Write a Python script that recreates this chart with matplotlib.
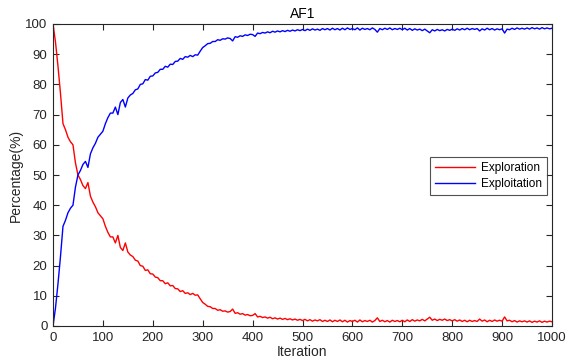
import numpy as np
import matplotlib
matplotlib.use("Agg")
import matplotlib.pyplot as plt

plt.rcParams['font.family'] = ['Liberation Sans', 'DejaVu Sans']

iterations = np.arange(0, 1001, 5)

exploration = [
    100, 94, 86, 77, 67, 65, 62.5, 61, 60, 54,
    50, 48.5, 46.5, 45.5, 47.5, 43, 41, 39.5, 37.5, 36.5,
    35.5, 33, 31, 29.5, 29.5, 27.5, 30, 26, 25, 27.5,
    24.5, 23.5, 23, 21.8, 21.5, 20, 19.8, 18.4, 18.6, 17.3,
    17.2, 16.2, 16.0, 15.0, 15.0, 14.0, 14.3, 13.3, 13.4, 12.4,
    12.3, 11.4, 11.7, 10.8, 11.0, 10.4, 10.8, 10.2, 10.3, 9.0,
    7.8, 7.2, 6.5, 6.4, 5.8, 5.8, 5.2, 5.4, 4.9, 5.0,
    4.6, 4.8, 5.6, 4.2, 4.4, 3.9, 4.1, 3.6, 3.8, 3.4,
    3.5, 4.1, 3.0, 3.2, 2.8, 3.0, 2.6, 2.9, 2.4, 2.7,
    2.3, 2.6, 2.2, 2.5, 2.1, 2.4, 2.0, 2.3, 1.9, 2.2,
    1.8, 2.2, 1.7, 2.1, 1.6, 2.0, 1.7, 2.1, 1.5, 1.9,
    1.5, 2.0, 1.4, 1.9, 1.5, 2.0, 1.4, 1.9, 1.3, 1.8,
    1.5, 1.9, 1.3, 2.0, 1.4, 1.8, 1.5, 1.9, 1.3, 1.8,
    2.7, 1.5, 1.9, 1.4, 1.8, 1.3, 1.9, 1.5, 1.8, 1.4,
    1.9, 1.4, 2.0, 1.5, 2.1, 1.6, 2.0, 1.7, 2.2, 1.7,
    2.3, 2.9, 1.9, 2.3, 1.8, 2.2, 1.9, 2.3, 1.8, 2.1,
    1.7, 2.1, 1.6, 2.0, 1.5, 1.9, 1.4, 1.9, 1.5, 1.8,
    1.5, 2.3, 1.6, 2.0, 1.4, 1.9, 1.5, 2.0, 1.6, 1.9,
    1.6, 3.0, 1.7, 1.9, 1.4, 1.8, 1.3, 1.7, 1.4, 1.7,
    1.3, 1.7, 1.2, 1.6, 1.3, 1.7, 1.2, 1.6, 1.3, 1.6,
    1.4,
]

exploitation = [
    0, 6, 14, 23, 33, 35, 37.5, 39, 40, 46,
    50, 51.5, 53.5, 54.5, 52.5, 57, 59, 60.5, 62.5, 63.5,
    64.5, 67, 69, 70.5, 70.5, 72.5, 70, 74, 75, 72.5,
    75.5, 76.5, 77, 78.2, 78.5, 80, 80.2, 81.6, 81.4, 82.7,
    82.8, 83.8, 84.0, 85.0, 85.0, 86.0, 85.7, 86.7, 86.6, 87.6,
    87.7, 88.6, 88.3, 89.2, 89.0, 89.6, 89.2, 89.8, 89.7, 91.0,
    92.2, 92.8, 93.5, 93.6, 94.2, 94.2, 94.8, 94.6, 95.1, 95.0,
    95.4, 95.2, 94.4, 95.8, 95.6, 96.1, 95.9, 96.4, 96.2, 96.6,
    96.5, 95.9, 97.0, 96.8, 97.2, 97.0, 97.4, 97.1, 97.6, 97.3,
    97.7, 97.4, 97.8, 97.5, 97.9, 97.6, 98.0, 97.7, 98.1, 97.8,
    98.2, 97.8, 98.3, 97.9, 98.4, 98.0, 98.3, 97.9, 98.5, 98.1,
    98.5, 98.0, 98.6, 98.1, 98.5, 98.0, 98.6, 98.1, 98.7, 98.2,
    98.5, 98.1, 98.7, 98.0, 98.6, 98.2, 98.5, 98.1, 98.7, 98.2,
    97.3, 98.5, 98.1, 98.6, 98.2, 98.7, 98.1, 98.5, 98.2, 98.6,
    98.1, 98.6, 98.0, 98.5, 97.9, 98.4, 98.0, 98.3, 97.8, 98.3,
    97.7, 97.1, 98.1, 97.7, 98.2, 97.8, 98.1, 97.7, 98.2, 97.9,
    98.3, 97.9, 98.4, 98.0, 98.5, 98.1, 98.6, 98.1, 98.5, 98.2,
    98.5, 97.7, 98.4, 98.0, 98.6, 98.1, 98.5, 98.0, 98.4, 98.1,
    98.4, 97.0, 98.3, 98.1, 98.6, 98.2, 98.7, 98.3, 98.6, 98.3,
    98.7, 98.3, 98.8, 98.4, 98.7, 98.3, 98.8, 98.4, 98.7, 98.4,
    98.6,
]

x_ticks = [0, 100, 200, 300, 400, 500, 600, 700, 800, 900, 1000]
y_ticks = [0, 10, 20, 30, 40, 50, 60, 70, 80, 90, 100]

fig = plt.figure(figsize=(5.67, 3.63), dpi=100)
ax = fig.add_axes([53/567, 1 - 326/363, 499/567, 302/363])

ax.plot(iterations, exploration, color='#ff0000', lw=1.0, label='Exploration')
ax.plot(iterations, exploitation, color='#0000ff', lw=1.0, label='Exploitation')

ax.set_xlim(0, 1000)
ax.set_ylim(0, 100)
ax.set_xticks(x_ticks)
ax.set_yticks(y_ticks)

axc = '#262626'
for s in ax.spines.values():
    s.set_color(axc)
    s.set_linewidth(0.8)
ax.tick_params(direction='in', length=4, width=0.8, colors=axc,
               top=True, right=True, labelsize=9.5, pad=4)
for lbl in ax.get_xticklabels() + ax.get_yticklabels():
    lbl.set_color(axc)

ax.set_title('AF1', fontsize=10, color='black', pad=4)
ax.set_xlabel('Iteration', fontsize=10, color=axc, labelpad=1)
ax.set_ylabel('Percentage(%)', fontsize=10, color=axc, labelpad=2)

leg = ax.legend(loc='upper left', bbox_to_anchor=(0.755, 0.56), fontsize=8.5,
                fancybox=False, frameon=True, handlelength=3.4,
                borderpad=0.45, labelspacing=0.3, handletextpad=0.5,
                borderaxespad=0)
leg.get_frame().set_edgecolor('#262626')
leg.get_frame().set_linewidth(0.8)

fig.savefig('out.png', dpi=100)
